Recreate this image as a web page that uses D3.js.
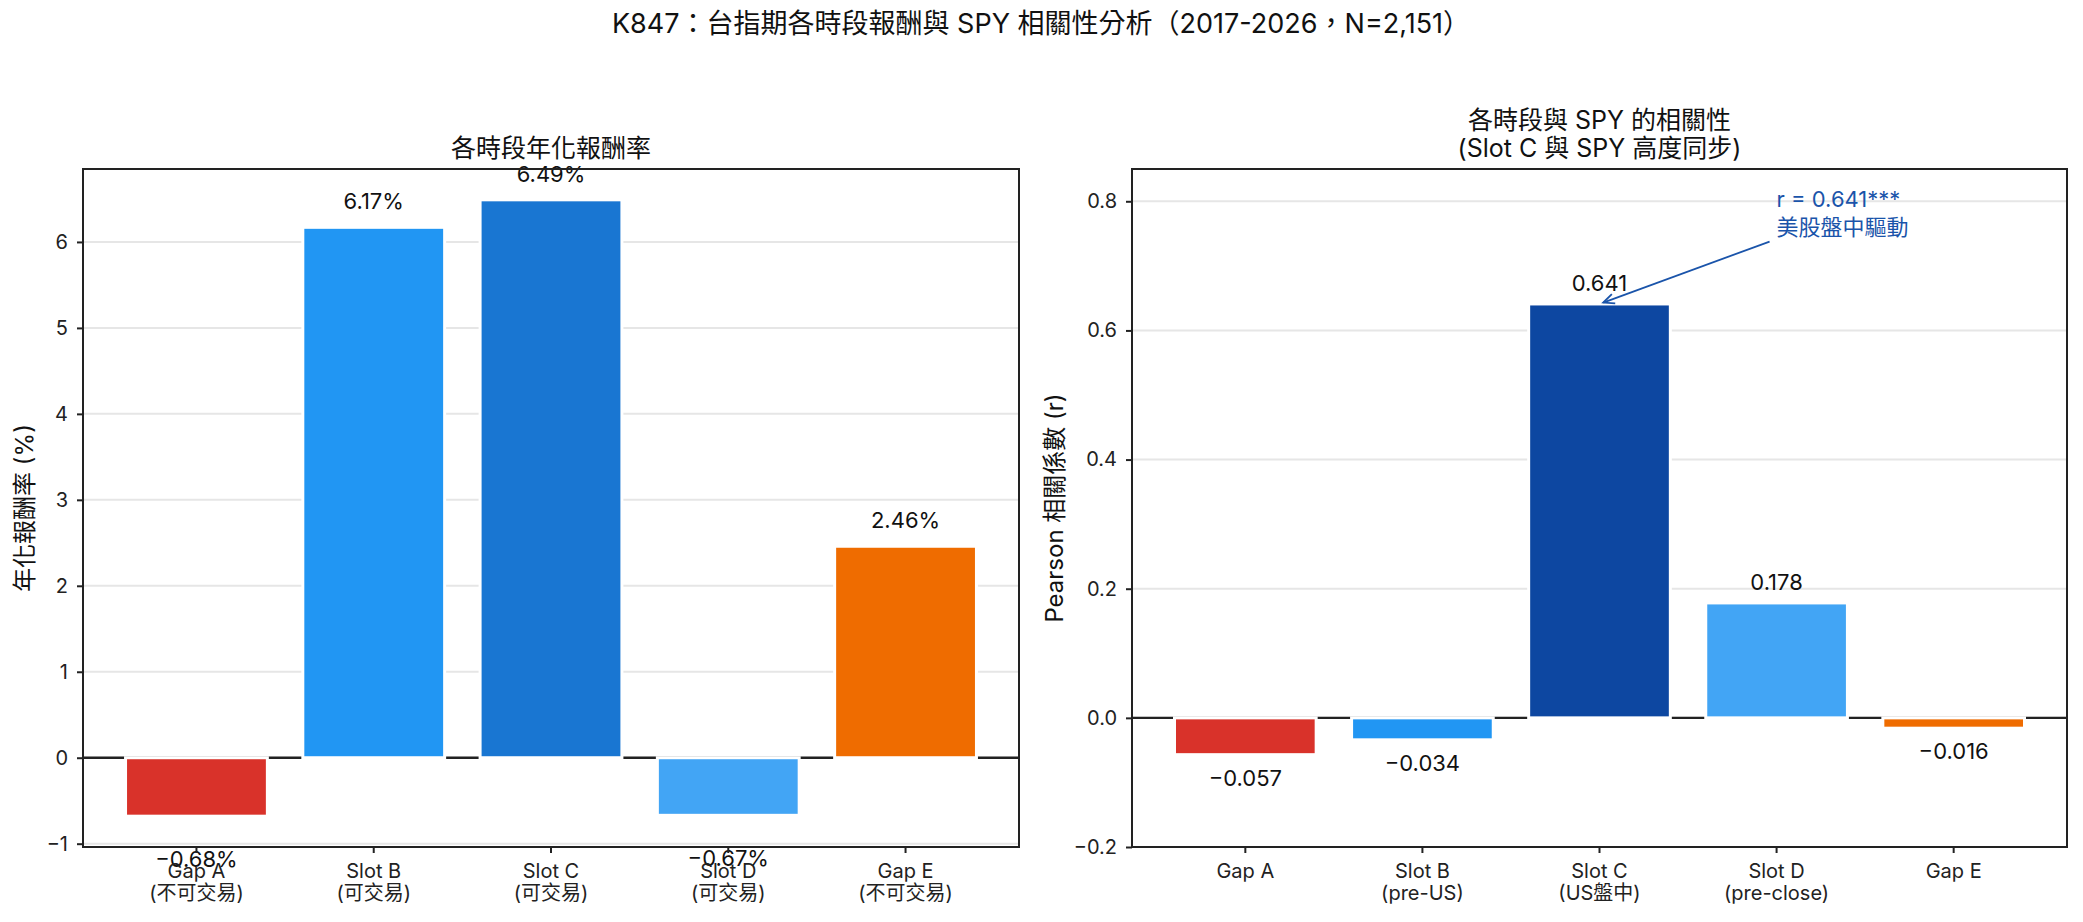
<!DOCTYPE html>
<html>
<head>
<meta charset="utf-8">
<script src="https://cdn.jsdelivr.net/npm/d3@7"></script>
<style>
  body { margin: 0; background: #fff; }
  svg text { font-family: Inter, "Noto Sans CJK TC", sans-serif; }
</style>
</head>
<body>
<div id="chart"></div>
<script>
// data
const slotLabels = ["Gap A\n(不可交易)", "Slot B\n(可交易)", "Slot C\n(可交易)", "Slot D\n(可交易)", "Gap E\n(不可交易)"];
const corrLabels = ["Gap A", "Slot B\n(pre-US)", "Slot C\n(US盤中)", "Slot D\n(pre-close)", "Gap E"];
const annualReturn = [-0.68, 6.17, 6.49, -0.67, 2.46];
const spyCorr = [-0.057, -0.034, 0.641, 0.178, -0.016];
const returnTicks = [-1, 0, 1, 2, 3, 4, 5, 6];
const corrTicks = [-0.2, 0, 0.2, 0.4, 0.6, 0.8];
const returnColors = ["#d9322a", "#2196F3", "#1976D2", "#42A5F5", "#EF6C00"];
const corrColors = ["#d9322a", "#2196F3", "#0D47A1", "#42A5F5", "#EF6C00"];

const W = 2083, H = 922;
const plotTop = 169, plotBottom = 847;
const ink = "#222";

const svg = d3.select("#chart").append("svg")
  .attr("width", W)
  .attr("height", H);

svg.append("text")
  .attr("x", 1041).attr("y", 33)
  .attr("text-anchor", "middle")
  .attr("font-size", 27)
  .attr("fill", "#111")
  .text("K847：台指期各時段報酬與 SPY 相關性分析（2017-2026，N=2,151）");

function drawPanel(cfg) {
  const g = svg.append("g");
  const n = cfg.values.length;

  const x = d3.scaleBand()
    .domain(d3.range(n))
    .range([cfg.left, cfg.right])
    .paddingInner(0.2)
    .paddingOuter(0.24);
  const cx = i => x(i) + x.bandwidth() / 2;

  const y = d3.scaleLinear()
    .domain(cfg.domain)
    .range([plotBottom, plotTop]);

  // grid
  g.selectAll(".grid")
    .data(cfg.ticks)
    .enter()
    .append("line")
      .attr("x1", cfg.left).attr("x2", cfg.right)
      .attr("y1", d => y(d)).attr("y2", d => y(d))
      .attr("stroke", "#e6e6e6")
      .attr("stroke-width", 2);

  // zero line
  g.append("line")
    .attr("x1", cfg.left).attr("x2", cfg.right)
    .attr("y1", y(0)).attr("y2", y(0))
    .attr("stroke", ink)
    .attr("stroke-width", 2.4);

  // bars
  g.selectAll(".bar")
    .data(cfg.values)
    .enter()
    .append("rect")
      .attr("x", (d, i) => x(i))
      .attr("width", x.bandwidth())
      .attr("y", d => y(Math.max(0, d)))
      .attr("height", d => Math.abs(y(d) - y(0)))
      .attr("fill", (d, i) => cfg.colors[i])
      .attr("stroke", "#fff")
      .attr("stroke-width", 3);

  // value labels
  g.selectAll(".val")
    .data(cfg.values)
    .enter()
    .append("text")
      .attr("x", (d, i) => cx(i))
      .attr("y", d => d >= 0 ? y(d) - cfg.posOff : y(d) + cfg.negOff)
      .attr("text-anchor", "middle")
      .attr("font-size", 22)
      .attr("fill", "#111")
      .text(cfg.labelFmt);

  // frame
  g.append("rect")
    .attr("x", cfg.left).attr("y", plotTop)
    .attr("width", cfg.right - cfg.left)
    .attr("height", plotBottom - plotTop)
    .attr("fill", "none")
    .attr("stroke", ink)
    .attr("stroke-width", 2);

  // y axis
  const ya = g.append("g")
    .attr("transform", `translate(${cfg.left},0)`)
    .call(d3.axisLeft(y).tickValues(cfg.ticks).tickFormat(cfg.tickFmt)
      .tickSize(6).tickPadding(9).tickSizeOuter(0));
  ya.select(".domain").remove();
  ya.selectAll("line").attr("stroke", ink).attr("stroke-width", 2);
  ya.selectAll("text").attr("font-size", 20).attr("fill", ink)
    .attr("font-family", 'Inter, "Noto Sans CJK TC", sans-serif');

  // x axis
  const xa = g.append("g")
    .attr("transform", `translate(0,${plotBottom})`)
    .call(d3.axisBottom(x).tickSize(6).tickSizeOuter(0)
      .tickFormat(i => cfg.categories[i]));
  xa.select(".domain").remove();
  xa.selectAll("line").attr("stroke", ink).attr("stroke-width", 2);
  xa.selectAll("text")
    .attr("font-size", 20).attr("fill", ink)
    .attr("font-family", 'Inter, "Noto Sans CJK TC", sans-serif')
    .attr("y", 31).attr("dy", null)
    .each(function(i) {
      const t = d3.select(this);
      const lines = cfg.categories[i].split("\n");
      t.text(null);
      lines.forEach((s, k) => {
        t.append("tspan").attr("x", 0).attr("dy", k === 0 ? 0 : 22).text(s);
      });
    });

  // titles
  const title = g.append("text")
    .attr("x", (cfg.left + cfg.right) / 2)
    .attr("y", 157 - 28 * (cfg.title.length - 1))
    .attr("text-anchor", "middle")
    .attr("font-size", 25)
    .attr("fill", "#111");
  cfg.title.forEach((s, k) => {
    title.append("tspan").attr("x", (cfg.left + cfg.right) / 2).attr("dy", k === 0 ? 0 : 28).text(s);
  });

  g.append("text")
    .attr("transform", `translate(${cfg.ylabelX},${(plotTop + plotBottom) / 2}) rotate(-90)`)
    .attr("text-anchor", "middle")
    .attr("dy", "0.35em")
    .attr("font-size", 24)
    .attr("fill", "#111")
    .text(cfg.ylabel);

  return { g, x, y, cx };
}

const retExt = [Math.min(0, d3.min(annualReturn)), d3.max(annualReturn)];
const pad = (retExt[1] - retExt[0]) * 0.05;

drawPanel({
  left: 83, right: 1019,
  values: annualReturn,
  categories: slotLabels,
  colors: returnColors,
  domain: [retExt[0] - pad, retExt[1] + pad],
  ticks: returnTicks,
  tickFmt: d3.format("d"),
  labelFmt: d => d3.format(".2f")(d) + "%",
  posOff: 18, negOff: 51,
  title: ["各時段年化報酬率"],
  ylabel: "年化報酬率 (%)",
  ylabelX: 25
});

const rightPanel = drawPanel({
  left: 1132, right: 2067,
  values: spyCorr,
  categories: corrLabels,
  colors: corrColors,
  domain: [-0.2, 0.85],
  ticks: corrTicks,
  tickFmt: d3.format(".1f"),
  labelFmt: d => d3.format(".3f")(d),
  posOff: 13, negOff: 31,
  title: ["各時段與 SPY 的相關性", "(Slot C 與 SPY 高度同步)"],
  ylabel: "Pearson 相關係數 (r)",
  ylabelX: 1055
});

// annotation on Slot C
const annColor = "#1a54aa";
const tx = rightPanel.cx(3), ty = rightPanel.y(0.75);
const ann = rightPanel.g.append("text")
  .attr("x", tx).attr("y", ty - 27)
  .attr("font-size", 22)
  .attr("fill", annColor);
ann.append("tspan").attr("x", tx).text("r = 0.641***");
ann.append("tspan").attr("x", tx).attr("dy", 28).text("美股盤中驅動");

const tail = [tx - 7, ty + 8];
const target = [rightPanel.cx(2), rightPanel.y(spyCorr[2])];
const ddx = tail[0] - target[0], ddy = tail[1] - target[1];
const len = Math.hypot(ddx, ddy);
const ux = ddx / len, uy = ddy / len;
const tip = [target[0] + ux * 4, target[1] + uy * 4];
const headLen = 12, ang = 0.42;
const rot = (a) => [
  tip[0] + headLen * (ux * Math.cos(a) - uy * Math.sin(a)),
  tip[1] + headLen * (ux * Math.sin(a) + uy * Math.cos(a))
];
rightPanel.g.append("line")
  .attr("x1", tail[0]).attr("y1", tail[1])
  .attr("x2", tip[0]).attr("y2", tip[1])
  .attr("stroke", annColor)
  .attr("stroke-width", 1.8);
rightPanel.g.append("path")
  .attr("d", d3.line()([rot(ang), tip, rot(-ang)]))
  .attr("fill", "none")
  .attr("stroke", annColor)
  .attr("stroke-width", 1.8);
</script>
</body>
</html>
